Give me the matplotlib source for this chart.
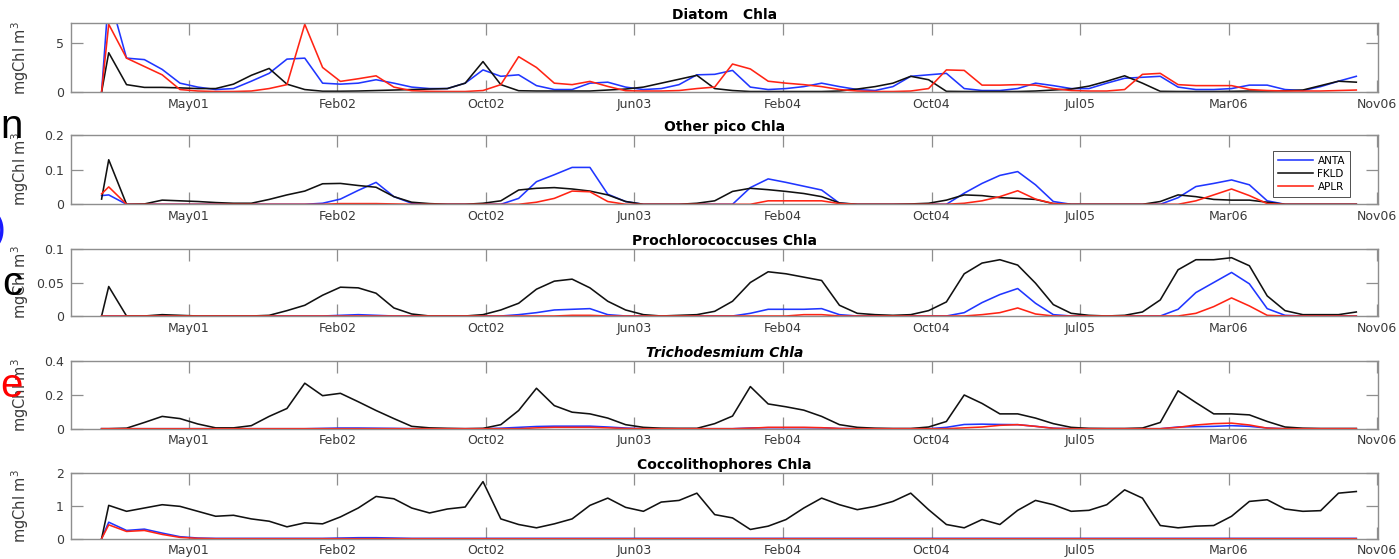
import numpy as np
import pandas as pd
import matplotlib
matplotlib.use("Agg")
import matplotlib.pyplot as plt

# time axis: initial state on 1 Jan 2001, then 30-day means
START = pd.Timestamp("2001-01-01")
FIRST_MEAN = pd.Timestamp("2001-01-13")
N_MEANS = 71
DATES = np.array([START] + list(pd.date_range(FIRST_MEAN, periods=N_MEANS, freq="30D")),
                 dtype="datetime64[ns]")

TICK_DATES = pd.date_range("2001-05-28", periods=9, freq="250D")
TICK_LABELS = ["May01", "Feb02", "Oct02", "Jun03", "Feb04", "Oct04", "Jul05", "Mar06", "Nov06"]
XLIM = (pd.Timestamp("2000-11-10"), pd.Timestamp("2006-11-19"))

STATIONS = ["ANTA", "FKLD", "APLR"]

DIATOM_ANTA = [0, 10.0, 3.45, 3.3, 2.3, 0.9, 0.5, 0.25, 0.35, 1.1,
               1.9, 3.35, 3.45, 0.9, 0.8, 0.9, 1.25, 0.9, 0.5, 0.35,
               0.35, 0.9, 2.25, 1.6, 1.75, 0.65, 0.25, 0.25, 0.9, 1.0,
               0.5, 0.25, 0.35, 0.75, 1.75, 1.8, 2.2, 0.5, 0.25, 0.35,
               0.55, 0.9, 0.55, 0.25, 0.15, 0.55, 1.6, 1.75, 1.9, 0.35,
               0.15, 0.15, 0.35, 0.9, 0.65, 0.35, 0.35, 0.9, 1.4, 1.5,
               1.6, 0.5, 0.25, 0.25, 0.35, 0.7, 0.7, 0.25, 0.15, 0.55,
               1.1, 1.6]
DIATOM_FKLD = [0, 4.0, 0.75, 0.47, 0.47, 0.42, 0.35, 0.35, 0.8, 1.7,
               2.4, 0.8, 0.25, 0.08, 0.08, 0.1, 0.15, 0.2, 0.25, 0.3,
               0.35, 0.9, 3.1, 0.75, 0.13, 0.1, 0.1, 0.1, 0.1, 0.2,
               0.3, 0.5, 0.9, 1.3, 1.7, 0.35, 0.15, 0.05, 0.05, 0.05,
               0.05, 0.05, 0.1, 0.3, 0.55, 0.9, 1.6, 1.25, 0.07, 0.05,
               0.05, 0.05, 0.05, 0.1, 0.2, 0.3, 0.6, 1.1, 1.65, 0.9,
               0.07, 0.05, 0.05, 0.05, 0.07, 0.1, 0.1, 0.12, 0.2, 0.65,
               1.1, 1.0]
DIATOM_APLR = [0, 6.9, 3.45, 2.6, 1.75, 0.25, 0.1, 0.05, 0.05, 0.1,
               0.35, 0.75, 6.9, 2.5, 1.08, 1.35, 1.65, 0.5, 0.13, 0.07,
               0.05, 0.05, 0.15, 0.75, 3.6, 2.5, 0.9, 0.75, 1.08, 0.57,
               0.13, 0.1, 0.1, 0.15, 0.35, 0.5, 2.85, 2.35, 1.1, 0.9,
               0.75, 0.55, 0.25, 0.1, 0.05, 0.05, 0.1, 0.35, 2.25, 2.2,
               0.7, 0.7, 0.75, 0.7, 0.35, 0.15, 0.1, 0.1, 0.25, 1.8,
               1.9, 0.75, 0.65, 0.65, 0.65, 0.25, 0.15, 0.1, 0.1, 0.1,
               0.15, 0.2]

PICO_ANTA = [0.025, 0.027, 0, 0, 0, 0, 0, 0, 0, 0,
             0, 0, 0, 0.003, 0.015, 0.04, 0.063, 0.022, 0.003, 0,
             0, 0, 0, 0, 0.017, 0.065, 0.085, 0.106, 0.106, 0.029,
             0.008, 0, 0, 0, 0, 0, 0, 0.048, 0.073, 0.063,
             0.052, 0.041, 0.003, 0, 0, 0, 0, 0, 0, 0.032,
             0.06, 0.083, 0.094, 0.056, 0.008, 0, 0, 0, 0, 0,
             0, 0.019, 0.051, 0.06, 0.07, 0.056, 0.01, 0, 0, 0,
             0, 0]
PICO_FKLD = [0.015, 0.128, 0, 0.001, 0.012, 0.01, 0.008, 0.005, 0.003, 0.003,
             0.014, 0.027, 0.038, 0.059, 0.06, 0.054, 0.049, 0.022, 0.006, 0.002,
             0, 0, 0.003, 0.01, 0.041, 0.046, 0.048, 0.044, 0.038, 0.027,
             0.008, 0, 0, 0, 0.003, 0.01, 0.037, 0.046, 0.042, 0.037,
             0.031, 0.022, 0.004, 0, 0, 0, 0.001, 0.003, 0.012, 0.027,
             0.025, 0.019, 0.017, 0.014, 0.002, 0, 0, 0, 0, 0,
             0.008, 0.027, 0.022, 0.014, 0.012, 0.012, 0.006, 0, 0, 0,
             0, 0]
PICO_APLR = [0.03, 0.05, 0, 0, 0, 0, 0, 0, 0, 0,
             0, 0, 0, 0, 0.002, 0.002, 0.002, 0.001, 0, 0,
             0, 0, 0, 0, 0, 0.006, 0.017, 0.038, 0.036, 0.008,
             0, 0, 0, 0, 0, 0, 0, 0, 0.01, 0.01,
             0.01, 0.01, 0.002, 0, 0, 0, 0, 0, 0, 0.003,
             0.01, 0.022, 0.039, 0.015, 0.002, 0, 0, 0, 0, 0,
             0, 0, 0.01, 0.027, 0.044, 0.025, 0.002, 0, 0, 0,
             0, 0]

PROCHLORO_ANTA = [0, 0, 0, 0, 0, 0, 0, 0, 0, 0,
                  0, 0, 0, 0, 0.001, 0.002, 0.001, 0, 0, 0,
                  0, 0, 0, 0, 0.002, 0.005, 0.009, 0.01, 0.011, 0.002,
                  0, 0, 0, 0, 0, 0, 0, 0.004, 0.01, 0.01,
                  0.01, 0.011, 0.002, 0, 0, 0, 0, 0, 0, 0.005,
                  0.02, 0.032, 0.041, 0.019, 0.002, 0, 0, 0, 0, 0,
                  0, 0.01, 0.035, 0.05, 0.065, 0.048, 0.011, 0.001, 0, 0,
                  0, 0]
PROCHLORO_FKLD = [0, 0.044, 0, 0, 0.002, 0.001, 0, 0, 0, 0,
                  0.001, 0.008, 0.016, 0.031, 0.043, 0.042, 0.034, 0.012, 0.003, 0,
                  0, 0, 0.002, 0.009, 0.019, 0.04, 0.052, 0.055, 0.042, 0.022,
                  0.009, 0.002, 0, 0.001, 0.002, 0.007, 0.022, 0.05, 0.066, 0.063,
                  0.058, 0.053, 0.016, 0.004, 0.002, 0.001, 0.002, 0.008, 0.021, 0.063,
                  0.079, 0.084, 0.076, 0.049, 0.017, 0.004, 0.001, 0, 0.001, 0.006,
                  0.024, 0.069, 0.084, 0.084, 0.087, 0.075, 0.03, 0.008, 0.002, 0.002,
                  0.002, 0.006]
PROCHLORO_APLR = [0, 0, 0, 0, 0, 0, 0, 0, 0, 0,
                  0, 0, 0, 0, 0, 0, 0, 0, 0, 0,
                  0, 0, 0, 0, 0, 0, 0, 0.001, 0.001, 0,
                  0, 0, 0, 0, 0, 0, 0, 0, 0, 0,
                  0.002, 0.002, 0, 0, 0, 0, 0, 0, 0, 0,
                  0.002, 0.005, 0.012, 0.003, 0, 0, 0, 0, 0, 0,
                  0, 0, 0.004, 0.014, 0.027, 0.015, 0.001, 0, 0, 0,
                  0, 0]

TRICHO_ANTA = [0, 0, 0, 0, 0, 0, 0, 0, 0, 0,
               0, 0, 0, 0.002, 0.004, 0.004, 0.003, 0.002, 0, 0,
               0, 0, 0, 0.003, 0.008, 0.013, 0.015, 0.015, 0.015, 0.01,
               0.004, 0, 0, 0, 0, 0, 0, 0.004, 0.006, 0.006,
               0.006, 0.005, 0.001, 0, 0, 0, 0, 0, 0.008, 0.025,
               0.027, 0.025, 0.024, 0.014, 0.003, 0, 0, 0, 0, 0,
               0, 0.01, 0.012, 0.014, 0.018, 0.014, 0.004, 0, 0, 0,
               0, 0]
TRICHO_FKLD = [0, 0, 0.003, 0.037, 0.073, 0.06, 0.028, 0.005, 0.005, 0.018,
               0.073, 0.12, 0.27, 0.196, 0.21, 0.16, 0.108, 0.06, 0.014, 0.005,
               0.002, 0, 0.002, 0.024, 0.108, 0.24, 0.137, 0.098, 0.088, 0.063,
               0.024, 0.008, 0.003, 0.002, 0.002, 0.03, 0.075, 0.25, 0.147, 0.13,
               0.11, 0.073, 0.024, 0.008, 0.003, 0.001, 0.001, 0.01, 0.043, 0.2,
               0.15, 0.088, 0.088, 0.063, 0.03, 0.008, 0.002, 0.001, 0.001, 0.004,
               0.037, 0.225, 0.155, 0.088, 0.088, 0.082, 0.043, 0.01, 0.003, 0.001,
               0.001, 0.001]
TRICHO_APLR = [0, 0, 0, 0, 0, 0, 0, 0, 0, 0,
               0, 0, 0, 0, 0, 0, 0, 0, 0, 0,
               0, 0, 0, 0, 0, 0.005, 0.008, 0.008, 0.008, 0.005,
               0.001, 0, 0, 0, 0, 0, 0, 0.003, 0.008, 0.008,
               0.008, 0.006, 0.001, 0, 0, 0, 0, 0, 0, 0.005,
               0.01, 0.02, 0.024, 0.014, 0.002, 0, 0, 0, 0, 0,
               0, 0.008, 0.022, 0.03, 0.033, 0.022, 0.003, 0, 0, 0,
               0, 0]

COCCO_ANTA = [0, 0.5, 0.25, 0.29, 0.17, 0.06, 0.02, 0.01, 0.01, 0.01,
              0.01, 0.01, 0.01, 0.01, 0.02, 0.03, 0.03, 0.02, 0.01, 0.01,
              0.01, 0.01, 0.01, 0.01, 0.01, 0.01, 0.01, 0.01, 0.01, 0.01,
              0.01, 0.01, 0.01, 0.01, 0.01, 0.01, 0.01, 0.01, 0.01, 0.01,
              0.01, 0.01, 0.01, 0.01, 0.01, 0.01, 0.01, 0.01, 0.01, 0.01,
              0.01, 0.01, 0.01, 0.01, 0.01, 0.01, 0.01, 0.01, 0.01, 0.01,
              0.01, 0.01, 0.01, 0.01, 0.01, 0.01, 0.01, 0.01, 0.01, 0.01,
              0.01, 0.01]
COCCO_FKLD = [0, 1.01, 0.83, 0.93, 1.03, 0.98, 0.83, 0.68, 0.71, 0.6,
              0.53, 0.36, 0.48, 0.45, 0.66, 0.93, 1.28, 1.21, 0.93, 0.78,
              0.9, 0.96, 1.73, 0.6, 0.43, 0.33, 0.45, 0.6, 1.01, 1.23,
              0.95, 0.83, 1.11, 1.16, 1.38, 0.73, 0.63, 0.28, 0.38, 0.58,
              0.93, 1.23, 1.03, 0.88, 0.98, 1.13, 1.38, 0.88, 0.43, 0.33,
              0.58, 0.43, 0.86, 1.16, 1.03, 0.83, 0.86, 1.03, 1.48, 1.23,
              0.4, 0.33, 0.38, 0.4, 0.68, 1.13, 1.18, 0.9, 0.83, 0.85,
              1.38, 1.43]
COCCO_APLR = [0, 0.42, 0.22, 0.25, 0.13, 0.04, 0.01, 0, 0, 0,
              0, 0, 0, 0, 0, 0, 0, 0, 0, 0,
              0, 0, 0, 0, 0, 0, 0, 0, 0, 0,
              0, 0, 0, 0, 0, 0, 0, 0, 0, 0,
              0, 0, 0, 0, 0, 0, 0, 0, 0, 0,
              0, 0, 0, 0, 0, 0, 0, 0, 0, 0,
              0, 0, 0, 0, 0, 0, 0, 0, 0, 0,
              0, 0]

TITLES = ["Diatom   Chla", "Other pico Chla", "Prochlorococcuses Chla",
          "Trichodesmium Chla", "Coccolithophores Chla"]
YLIMS = [(0, 7), (0, 0.2), (0, 0.1), (0, 0.4), (0, 2)]
YTICKS = [[0, 5], [0, 0.1, 0.2], [0, 0.05, 0.1], [0, 0.2, 0.4], [0, 1, 2]]
YTICK_LABELS = [["0", "5"], ["0", "0.1", "0.2"], ["0", "0.05", "0.1"],
                ["0", "0.2", "0.4"], ["0", "1", "2"]]

SERIES = [
    (DIATOM_ANTA, DIATOM_FKLD, DIATOM_APLR),
    (PICO_ANTA, PICO_FKLD, PICO_APLR),
    (PROCHLORO_ANTA, PROCHLORO_FKLD, PROCHLORO_APLR),
    (TRICHO_ANTA, TRICHO_FKLD, TRICHO_APLR),
    (COCCO_ANTA, COCCO_FKLD, COCCO_APLR),
]

COLORS = ["#2036ff", "#111111", "#ff2414"]
GRAY = "#8e8e8e"

W, H = 1399, 559
# panel frames in pixels (top, bottom)
PANEL_PX = [(23.3, 92.0), (134.7, 204.3), (249.0, 316.0), (361.3, 428.7), (472.7, 538.7)]
LEFT_PX, RIGHT_PX = 70.7, 1377.7

fig = plt.figure(figsize=(W / 100, H / 100), dpi=100)

for i, (top, bottom) in enumerate(PANEL_PX):
    ax = fig.add_axes([LEFT_PX / W, 1 - bottom / H, (RIGHT_PX - LEFT_PX) / W, (bottom - top) / H])
    for name, values, color in zip(STATIONS, SERIES[i], COLORS):
        ax.plot(DATES, values, color=color, lw=1.15, label=name)

    ax.set_xlim(*XLIM)
    ax.set_ylim(*YLIMS[i])
    ax.set_xticks(TICK_DATES)
    ax.set_xticklabels(TICK_LABELS)
    ax.set_yticks(YTICKS[i])
    ax.set_yticklabels(YTICK_LABELS[i])
    ax.tick_params(direction="in", top=True, right=True, length=8.5, width=0.9,
                   color=GRAY, labelcolor="#3a3a3a", labelsize=9)
    ax.tick_params(axis="x", pad=4)
    ax.tick_params(axis="y", pad=5)
    for sp in ax.spines.values():
        sp.set_color(GRAY)
        sp.set_linewidth(1.0)

    style = "italic" if i == 3 else "normal"
    ax.set_title(TITLES[i], fontsize=10, fontweight="bold", fontstyle=style, pad=3)
    ax.set_ylabel("mgChl m$^3$", fontsize=10.5, color="#3a3a3a")
    ax.yaxis.set_label_coords(-0.030, 0.5)

    if i == 1:
        leg = ax.legend(loc="upper right", bbox_to_anchor=(0.9825, 0.84), fontsize=7.5,
                        handlelength=3.4, fancybox=False, framealpha=1,
                        borderpad=0.45, labelspacing=0.3, handletextpad=0.4)
        leg.get_frame().set_edgecolor("#333333")
        leg.get_frame().set_linewidth(0.6)

# stray letters from the neighbouring figure, cut at the left margin
fig.text(0.0, 1 - 138 / H, "n", fontsize=29, family="Liberation Sans", color="black", va="baseline")
fig.text(6 / W, 1 - 230 / H, ")", fontsize=28, family="Liberation Sans", color="#1a1aff",
         ha="right", va="center")
fig.text(2 / W, 1 - 295 / H, "c", fontsize=29, family="Liberation Sans", color="black", va="baseline")
fig.text(0.0, 1 - 397 / H, "e", fontsize=29, family="Liberation Sans", color="red", va="baseline")

fig.savefig("out.png", dpi=100)
